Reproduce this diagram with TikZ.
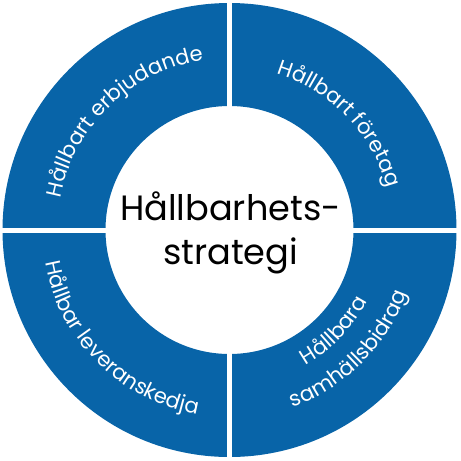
\documentclass[tikz,border=0pt]{standalone}
\usepackage{fontspec}
\setmainfont{Poppins}
\usetikzlibrary{decorations.text}
\definecolor{ringblue}{HTML}{0864A8}
\newcommand{\ringfont}{\fontsize{12}{14}\selectfont}
\newcommand{\corefont}{\fontsize{20}{25}\selectfont}

\begin{document}
\begin{tikzpicture}[
    arctext/.style={decorate,decoration={text along path,text align=center,
        text color=white,text={|\ringfont|#1}}}]
    \useasboundingbox (-4.59,-4.6) rectangle (4.63,4.6);

    % ring and the white cross between the four parts
    \fill[ringblue,even odd rule] (0,0) circle[radius=4.54] (0,0) circle[radius=2.48];
    \draw[white,line width=0.1cm] (-4.7,0)--(4.7,0);
    \draw[white,line width=0.1cm] (0,-4.7)--(0,4.7);

    \node[font=\corefont,align=center,inner sep=0pt] (core) at (0.02,-0.05) {Hållbarhets-\\strategi};

    % texts on the ring
    \path[arctext={Hållbart erbjudande}] (179:3.44) arc[start angle=179,end angle=89,radius=3.44];
    \path[arctext={Hållbart företag}] (89:3.26) arc[start angle=89,end angle=-1,radius=3.26];
    \path[arctext={Hållbar leveranskedja}] (180:3.74) arc[start angle=180,end angle=270,radius=3.74];
    \path[arctext={Hållbara}] (-89:3.1) arc[start angle=-89,end angle=1,radius=3.1];
    \path[arctext={samhällsbidrag}] (-90:3.76) arc[start angle=-90,end angle=0,radius=3.76];
\end{tikzpicture}
\end{document}
